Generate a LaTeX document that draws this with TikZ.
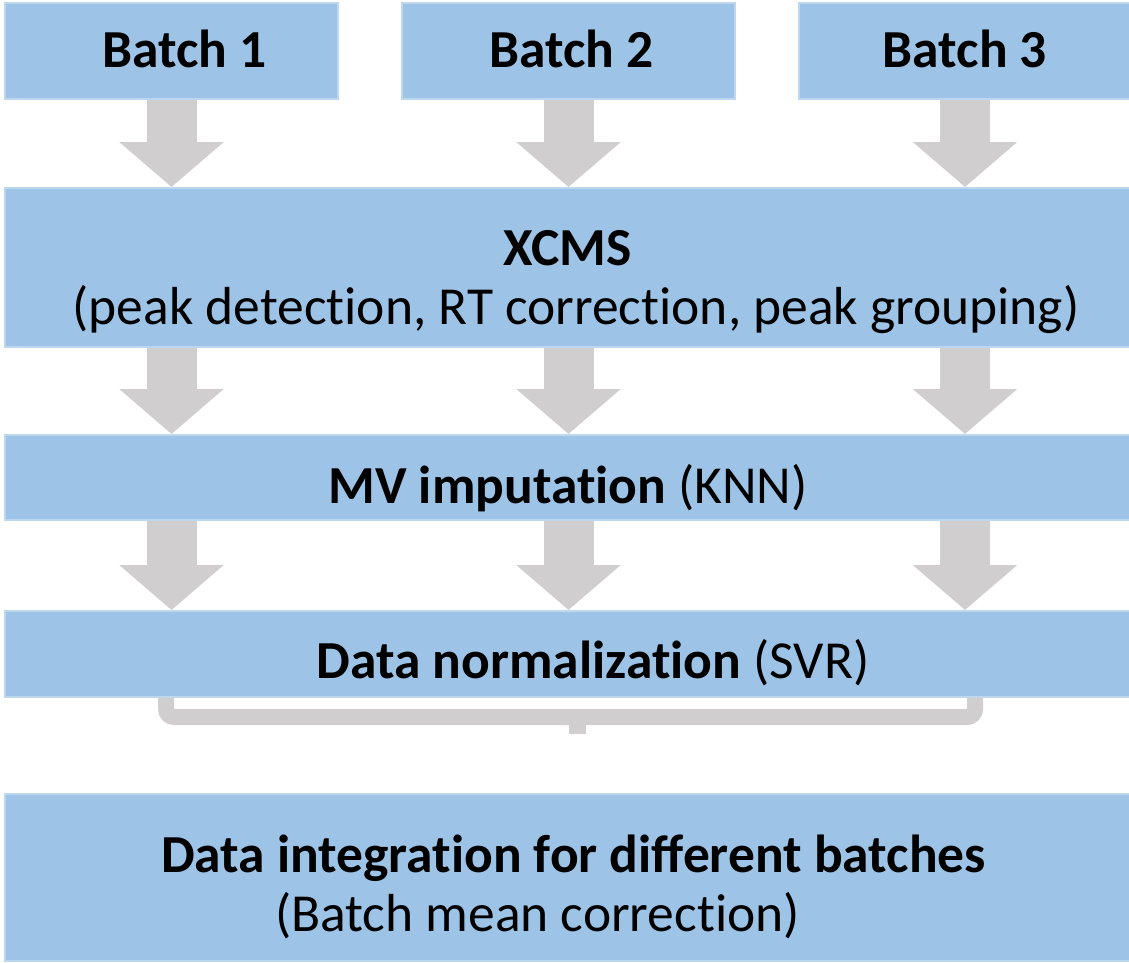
\documentclass[tikz,border=0pt]{standalone}
\usepackage{fontspec}
\setmainfont{Carlito}
\newcommand\tinolig{t\kern0pt i}
\usetikzlibrary{arrows.meta}
\definecolor{boxblue}{HTML}{9DC3E6}
\definecolor{boxedge}{HTML}{BDD7EE}
\definecolor{arrowgray}{HTML}{D0CECE}
\begin{document}
\begin{tikzpicture}[x=1pt, y=-1pt,
  every node/.style = {inner sep=0pt, align=center,
    font=\fontsize{53.5}{59}\selectfont},
  stage/.style = {rectangle, fill=boxblue, draw=boxedge, line width=2pt,
    minimum width=1126pt, text depth=0pt},
  batchbox/.style = {stage, minimum width=333pt, minimum height=96pt,
    text height=33pt, font=\fontsize{53.5}{59}\selectfont\bfseries},
  flow/.style = {arrowgray, line width=50pt,
    -{Triangle[length=45pt, width=102pt]}}]
  \useasboundingbox (0,0) rectangle (1129,962);
  % batches
  \node [batchbox] (b1) at (171.5,51) {\hspace*{26pt}Batch 1};
  \node [batchbox] (b2) at (568.5,51) {\hspace*{6pt}Batch 2};
  \node [batchbox] (b3) at (965,51) {Batch 3};
  % processing steps
  \node [stage, minimum height=159pt, text height=113pt] (xcms) at (568,267.5)
    {\textbf{XCMS}\\\hspace*{16pt}(peak detec\tinolig on, RT correc\tinolig on, peak grouping)};
  \node [stage, minimum height=85pt, text height=51pt] (mv) at (568,477.5)
    {\textbf{MV imputa\tinolig on} (KNN)};
  \node [stage, minimum height=86pt, text height=49pt] (norm) at (568,654)
    {\hspace*{50pt}\textbf{Data normaliza\tinolig on} (SVR)};
  \node [stage, minimum height=167pt, text height=107pt] (integ) at (567.5,877.5)
    {\hspace*{12pt}\textbf{Data integra\tinolig on for different batches}\\
     (Batch mean correc\tinolig on)\hspace*{60pt}};
  % arrows
  \foreach \b in {b1,b2,b3} {
    \draw [flow] (\b.south) -- (\b.south |- xcms.north);
    \draw [flow] (xcms.south -| \b) -- (mv.north -| \b);
    \draw [flow] (mv.south -| \b) -- (norm.north -| \b);
  }
  % bracket
  \draw [arrowgray, line width=16pt, rounded corners=8pt]
    (166,698) -- (166,717) -- (975,717) -- (975,698);
  \fill [arrowgray] (569,717) rectangle (586,734);
\end{tikzpicture}
\end{document}
